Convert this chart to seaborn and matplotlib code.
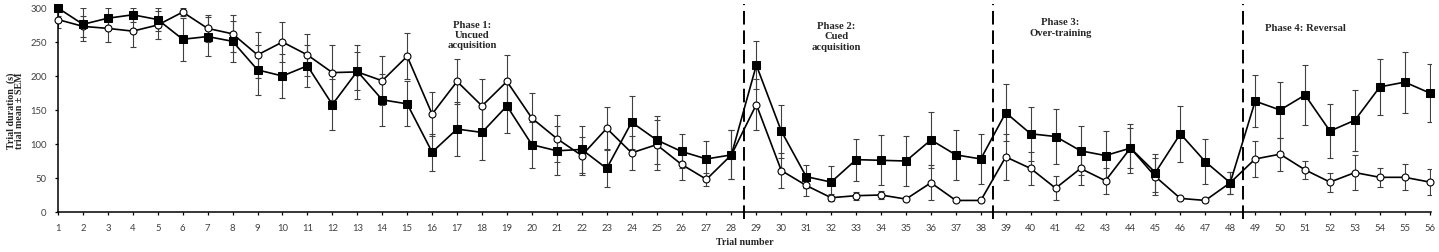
import seaborn as sns
import matplotlib.pyplot as plt
import pandas as pd

# trial numbers and per-trial mean +/- SEM for the two groups
trials = list(range(1, 57))
sq_mean = [300, 276, 285, 290, 283, 254, 258, 251, 209, 200,
           215, 158, 207, 165, 159, 88, 122, 117, 156, 99,
           90, 92, 64, 132, 106, 89, 78, 84, 216, 119,
           52, 44, 77, 76, 75, 106, 84, 78, 146, 115,
           111, 90, 83, 94, 58, 115, 74, 43, 163, 150,
           172, 119, 135, 184, 191, 175]
sq_sem = [12, 24, 15, 10, 17, 32, 29, 30, 37, 33,
          31, 37, 28, 38, 33, 27, 40, 40, 40, 34,
          36, 35, 27, 39, 35, 25, 27, 36, 35, 39,
          17, 23, 31, 37, 37, 41, 37, 37, 42, 40,
          40, 36, 36, 36, 28, 41, 33, 16, 38, 41,
          44, 40, 45, 41, 45, 43]
circ_mean = [283, 273, 270, 266, 275, 294, 270, 262, 231, 250,
             231, 205, 206, 193, 229, 144, 192, 156, 192, 138,
             108, 83, 123, 87, 99, 70, 48, 84, 158, 61,
             39, 21, 24, 25, 19, 43, 17, 17, 81, 64,
             35, 64, 46, 94, 52, 20, 17, 43, 78, 85,
             62, 44, 58, 51, 51, 44]
circ_sem = [13, 15, 20, 23, 20, 6, 20, 27, 34, 30,
            31, 40, 40, 36, 34, 32, 33, 40, 39, 37,
            34, 28, 31, 25, 37, 23, 10, 36, 37, 26,
            15, 5, 6, 6, 3, 26, 2, 2, 34, 24,
            18, 25, 19, 30, 27, 2, 2, 16, 26, 24,
            13, 14, 26, 14, 19, 19]

phase_bounds = [28.5, 38.5, 48.5]
phase_labels = ["Phase 1:\nUncued\nacquisition", "Phase 2:\nCued\nacquisition",
                "Phase 3:\nOver-training", "Phase 4: Reversal"]
phase_x = [17.6, 32.2, 41.2, 51.0]
phase_y = [0.870, 0.863, 0.907, 0.902]

df = pd.DataFrame({"trial": trials, "sq": sq_mean, "circ": circ_mean})

sns.set_style("ticks")
serif = "Liberation Serif"
tickfont = "Lato"

fig = plt.figure(figsize=(14.39, 2.53), dpi=100)
ax = fig.add_axes([58 / 1439, 1 - 213 / 253, 1373 / 1439, 204 / 253])

# error bars first, under the lines
ax.errorbar(trials, circ_mean, yerr=circ_sem, fmt="none", ecolor="#404040",
            elinewidth=0.8, capsize=2.2, capthick=0.8, zorder=1)
ax.errorbar(trials, sq_mean, yerr=sq_sem, fmt="none", ecolor="#404040",
            elinewidth=0.8, capsize=2.2, capthick=0.8, zorder=1)

sns.lineplot(data=df, x="trial", y="circ", ax=ax, color="black", lw=1.2,
             marker="o", markersize=5, markerfacecolor="white",
             markeredgecolor="black", markeredgewidth=0.8, zorder=3,
             clip_on=False)
sns.lineplot(data=df, x="trial", y="sq", ax=ax, color="black", lw=1.2,
             marker="s", markersize=5.2, markerfacecolor="black",
             markeredgecolor="black", zorder=4, clip_on=False)

for b in phase_bounds:
    ax.axvline(b, ymin=-0.034, ymax=1.02, color="black", lw=1.4,
               ls=(0, (7, 3)), clip_on=False, zorder=2)

for lab, px, py in zip(phase_labels, phase_x, phase_y):
    ax.text(px, py, lab, transform=ax.get_xaxis_transform(), ha="center",
            va="center", fontsize=7.7, fontweight="bold", family=serif,
            linespacing=1.2)

ax.set_xlim(1, 56.05)
ax.set_ylim(0, 300)
ax.set_xticks(trials)
ax.set_yticks(range(0, 301, 50))
sns.despine(ax=ax)
for s in ["left", "bottom"]:
    ax.spines[s].set_linewidth(1.1)
    ax.spines[s].set_color("black")
ax.tick_params(axis="both", length=2.2, width=0.9, color="black", pad=6,
               labelsize=6.8, labelcolor="#404040")
for t in ax.get_xticklabels() + ax.get_yticklabels():
    t.set_family(tickfont)

ax.set_xlabel("Trial number", fontsize=7.2, fontweight="bold", family=serif,
              va="center")
ax.xaxis.set_label_coords(0.5, -0.147)
ax.set_ylabel("Trial duration  (s)\ntrial mean \u00b1 SEM", fontsize=7.2,
              fontweight="bold", family=serif, va="center", linespacing=0.95)
ax.yaxis.set_label_coords(-0.0313, 0.5)

fig.savefig("out.png", dpi=100)
